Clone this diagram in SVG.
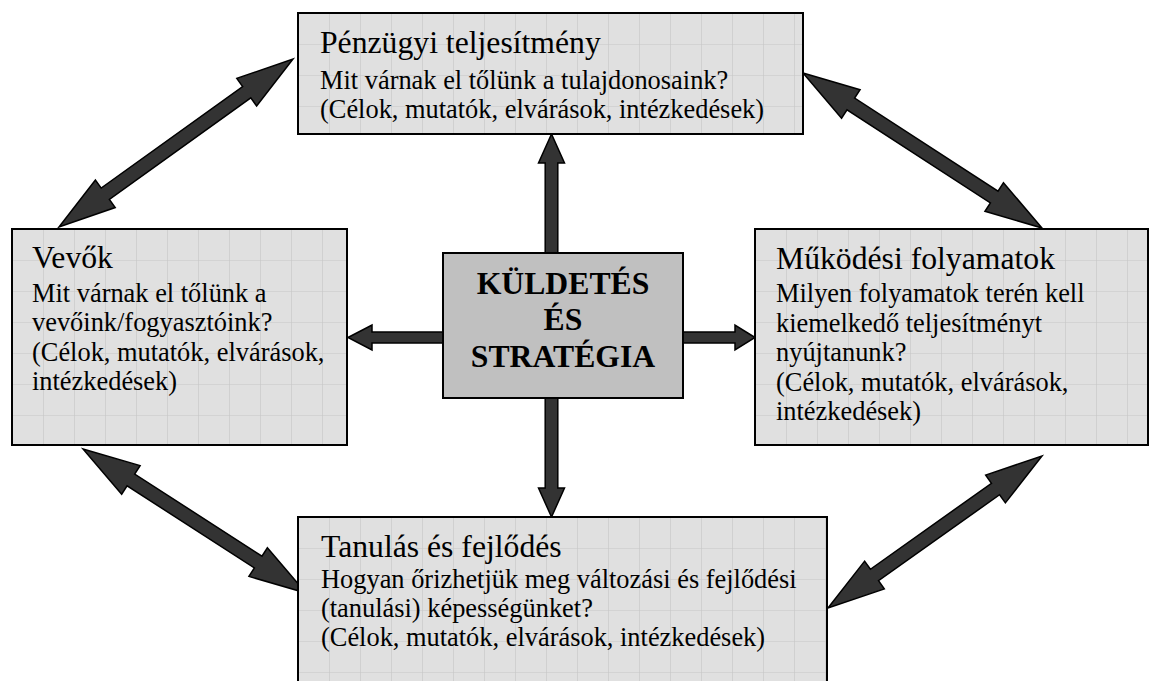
<svg xmlns="http://www.w3.org/2000/svg" width="1150" height="681" viewBox="0 0 1150 681">
  <style>
    .box { fill: url(#grid); stroke: #000; stroke-width: 2; }
    .core { fill: #c0c0c0; stroke: #000; stroke-width: 2; }
    .arrow { fill: #333333; stroke: #000; stroke-width: 1.5; stroke-linejoin: miter; }
  </style>
  <defs>
    <!-- light grey grid fill, 31px cells, anchored at each box's own origin -->
    <pattern id="grid" width="31" height="31" patternUnits="userSpaceOnUse">
      <rect width="31" height="31" fill="#e0e0e0"/>
      <path d="M0 0 H31 M0 0 V31" stroke="#c6c6c6" stroke-width="1.2" fill="none"/>
    </pattern>
  </defs>

  <rect width="1150" height="681" fill="#fff"/>

  <!-- connectors -->
  <g id="connectors">
    <!-- centre to the four perspectives -->
    <polygon class="arrow" points="551.5,134 564.5,163 557.8,163 557.8,253 545.2,253 545.2,163 538.5,163"/>
    <polygon class="arrow" points="551.5,517 564.5,488 557.8,488 557.8,398 545.2,398 545.2,488 538.5,488"/>
    <polygon class="arrow" points="348,337.5 372,325 372,332 443,332 443,343 372,343 372,350"/>
    <polygon class="arrow" points="755,337.5 735,325 735,332 683,332 683,343 735,343 735,350"/>
    <!-- double arrows between neighbouring perspectives -->
    <polygon class="arrow" transform="translate(59,227) rotate(-35.68)" points="0,0 57,-17 57,-7 231.1,-7 231.1,-17 288.1,0 231.1,17 231.1,7 57,7 57,17"/>
    <polygon class="arrow" transform="translate(803,73) rotate(32.97)" points="0,0 57,-17 57,-7 227.9,-7 227.9,-17 284.9,0 227.9,17 227.9,7 57,7 57,17"/>
    <polygon class="arrow" transform="translate(83,449) rotate(32.85)" points="0,0 57,-17 57,-7 208.5,-7 208.5,-17 265.5,0 208.5,17 208.5,7 57,7 57,17"/>
    <polygon class="arrow" transform="translate(828,608) rotate(-35.39)" points="0,0 57,-17 57,-7 205.5,-7 205.5,-17 262.5,0 205.5,17 205.5,7 57,7 57,17"/>
  </g>

  <g font-family="Liberation Serif, Times New Roman, DejaVu Serif, serif" fill="#000">
    <g id="penzugyi" transform="translate(298,13)">
      <rect class="box" x="0" y="0" width="505" height="121"/>
      <text font-size="31.7" x="22" y="40">Pénzügyi teljesítmény</text>
      <text font-size="26.4" x="22" y="75.5">Mit várnak el tőlünk a tulajdonosaink?</text>
      <text font-size="26.4" x="22" y="104.5">(Célok, mutatók, elvárások, intézkedések)</text>
    </g>

    <g id="vevok" transform="translate(12,229)">
      <rect class="box" x="0" y="0" width="335" height="216"/>
      <text font-size="31.7" x="20" y="39">Vevők</text>
      <text font-size="26.4" x="20" y="72.5">Mit várnak el tőlünk a</text>
      <text font-size="26.4" x="20" y="102">vevőink/fogyasztóink?</text>
      <text font-size="26.4" x="20" y="131.5">(Célok, mutatók, elvárások,</text>
      <text font-size="26.4" x="20" y="161">intézkedések)</text>
    </g>

    <g id="mukodesi" transform="translate(755,229)">
      <rect class="box" x="0" y="0" width="393" height="216"/>
      <text font-size="31.7" x="21" y="40">Működési folyamatok</text>
      <text font-size="26.4" x="21" y="73">Milyen folyamatok terén kell</text>
      <text font-size="26.4" x="21" y="102.5">kiemelkedő teljesítményt</text>
      <text font-size="26.4" x="21" y="132">nyújtanunk?</text>
      <text font-size="26.4" x="21" y="161.5">(Célok, mutatók, elvárások,</text>
      <text font-size="26.4" x="21" y="191">intézkedések)</text>
    </g>

    <g id="tanulas" transform="translate(298,517)">
      <rect class="box" x="0" y="0" width="529" height="175"/>
      <text font-size="31.7" x="23" y="40">Tanulás és fejlődés</text>
      <text font-size="26.4" x="23" y="71">Hogyan őrizhetjük meg változási és fejlődési</text>
      <text font-size="26.4" x="23" y="100">(tanulási) képességünket?</text>
      <text font-size="26.4" x="23" y="129">(Célok, mutatók, elvárások, intézkedések)</text>
    </g>

    <g id="kuldetes" font-size="31.7" font-weight="bold" text-anchor="middle">
      <rect class="core" x="443" y="253" width="240" height="145"/>
      <text x="563" y="294">KÜLDETÉS</text>
      <text x="563" y="330">ÉS</text>
      <text x="563" y="367">STRATÉGIA</text>
    </g>
  </g>
</svg>
